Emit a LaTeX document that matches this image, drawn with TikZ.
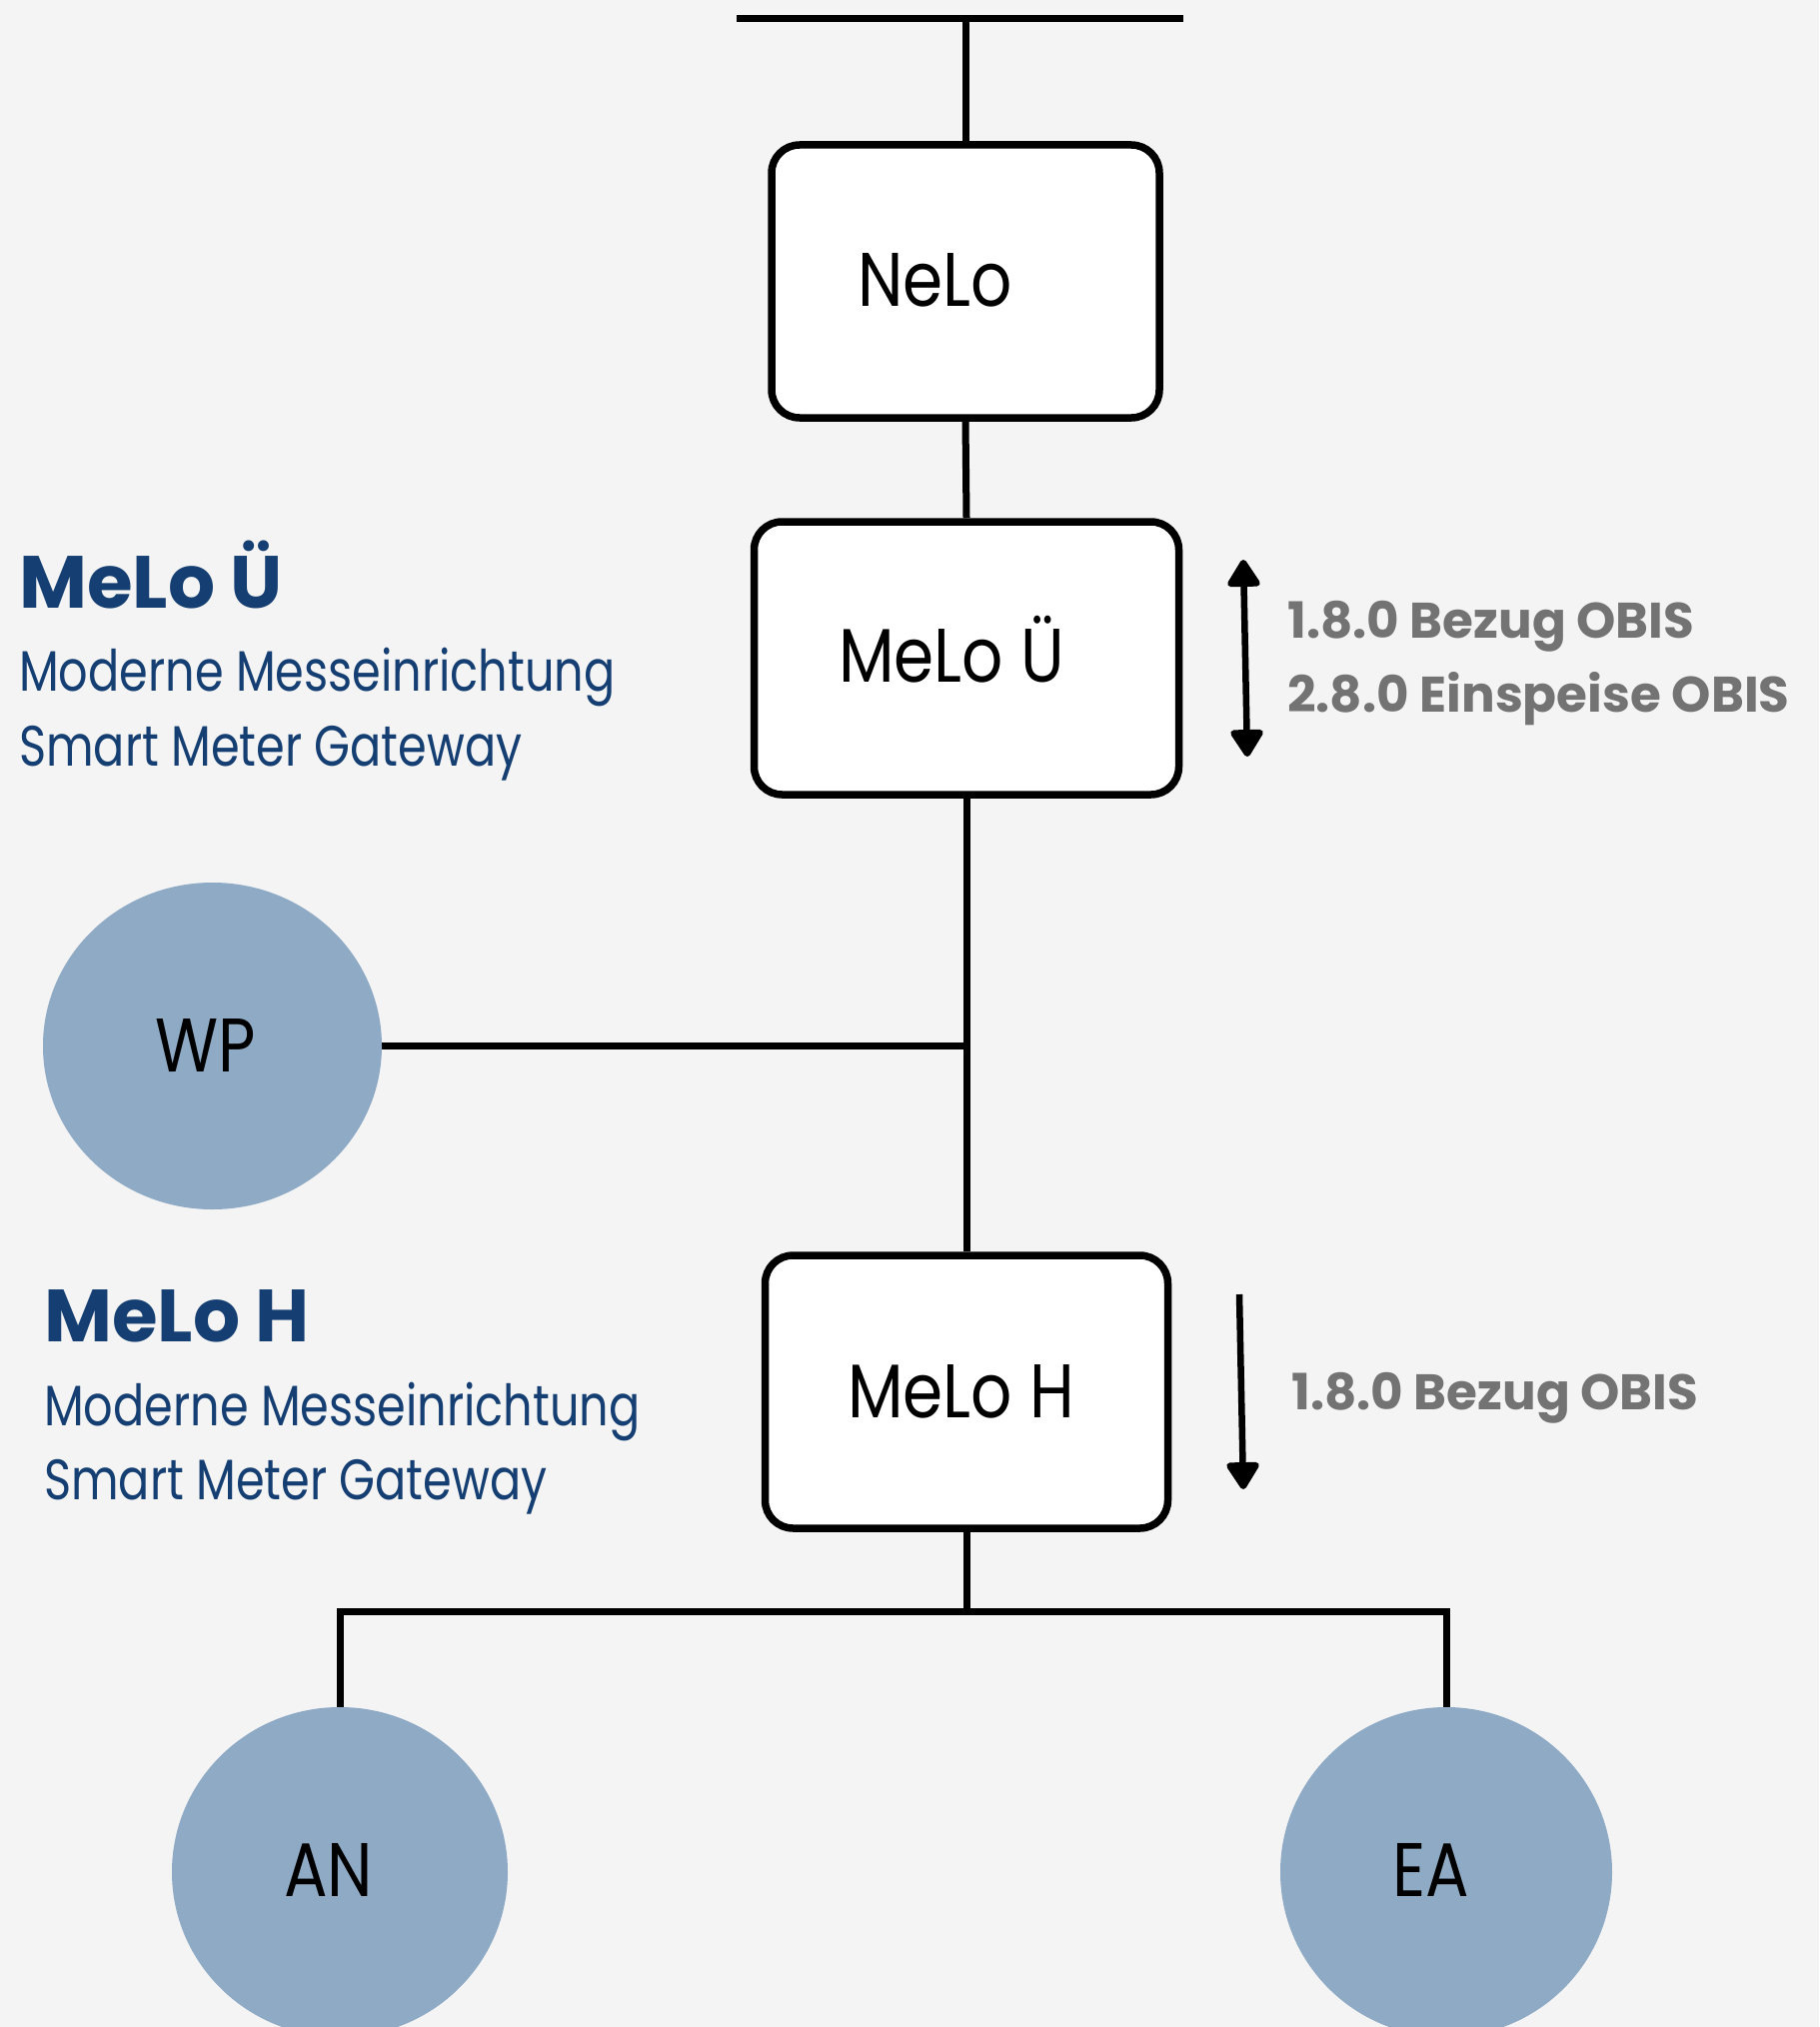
\documentclass[tikz,border=0pt]{standalone}
\usepackage{fontspec}
\setmainfont{Poppins}[FakeStretch=0.85]
\newfontfamily\subfont{Poppins}[FakeStretch=0.81]
\newfontfamily\headfont{Poppins}
\usetikzlibrary{arrows.meta,shapes.geometric}
\definecolor{bgc}{RGB}{244,244,244}
\definecolor{navy}{RGB}{21,63,114}
\definecolor{obisgray}{RGB}{115,115,115}
\definecolor{blob}{RGB}{143,170,197}
\begin{document}
\begin{tikzpicture}[x=1pt,y=-1pt,
  boxnode/.style={draw=black,line width=7.5pt,rounded corners=28pt,fill=white,inner sep=0pt},
  blobnode/.style={ellipse,fill=blob,inner sep=0pt},
  wire/.style={line width=7pt},
  tipshape/.tip={Triangle[width=36pt,length=30pt,round]},
  flow/.style={line width=6.5pt,-tipshape},
  lbl/.style={anchor=base west,inner sep=0pt},
  boxtxt/.style={lbl,font=\fontsize{76}{76}\selectfont},
  head/.style={lbl,text=navy,font=\headfont\fontsize{74}{74}\selectfont\bfseries},
  sub/.style={lbl,text=navy,font=\subfont\fontsize{57}{57}\selectfont},
  obis/.style={lbl,text=obisgray,font=\headfont\fontsize{50}{50}\selectfont\bfseries}]
\clip (0,0) rectangle (1820,2028);
\fill[bgc] (0,0) rectangle (1820,2028);

% nodes
\node[boxnode,minimum width=388pt,minimum height=273pt] (nelo) at (966,281.5) {};
\node[boxnode,minimum width=425pt,minimum height=273pt] (melou) at (967,658.5) {};
\node[boxnode,minimum width=403pt,minimum height=273pt] (meloh) at (967,1392.5) {};
\node[blobnode,minimum width=339pt,minimum height=327pt] (wp) at (212.5,1046.5) {};
\node[blobnode,minimum width=336pt,minimum height=330pt] (an) at (340,1873) {};
\node[blobnode,minimum width=332pt,minimum height=330pt] (ea) at (1447,1873) {};

% texts in shapes
\node[boxtxt] (tnelo) at (858,306) {NeLo};
\node[boxtxt] (tmelou) at (839,682) {MeLo Ü};
\node[boxtxt] (tmeloh) at (848,1418) {MeLo H};
\node[boxtxt] (twp) at (155,1072) {WP};
\node[boxtxt] (tan) at (284,1897) {AN};
\node[boxtxt] (tea) at (1393,1897) {EA};

% side labels
\node[head] (hu) at (19,608) {MeLo Ü};
\node[sub] (su1) at (19,691) {Moderne Messeinrichtung};
\node[sub] (su2) at (19,766) {Smart Meter Gateway};
\node[head] (hh) at (44,1342) {MeLo H};
\node[sub] (sh1) at (44,1426) {Moderne Messeinrichtung};
\node[sub] (sh2) at (44,1500) {Smart Meter Gateway};

\node[obis] (o1) at (1288,638) {1.8.0 Bezug OBIS};
\node[obis] (o2) at (1288,712) {2.8.0 Einspeise OBIS};
\node[obis] (o3) at (1292,1410) {1.8.0 Bezug OBIS};

% connectors
\coordinate (barL) at (737,19);
\coordinate (barR) at (1184,19);
\coordinate (barM) at (966,19);
\draw[wire] (barL) -- (barR);
\draw[wire] (barM) -- (nelo.north);
\draw[wire] (nelo.south) -- (melou.north);
\draw[wire] (melou.south) -- (meloh.north);
\draw[wire] (wp.east) -- (wp.east -| melou.south);
\coordinate (busM) at (967,1612);
\draw[wire] (meloh.south) -- (busM);
\draw[wire] (an.north) -- (an.north |- busM) -- (ea.north |- busM) -- (ea.north);

% arrows
\coordinate (a1t) at (1244,560);
\coordinate (a1b) at (1248,757);
\draw[flow,tipshape-tipshape] (a1t) -- (a1b);
\coordinate (a2t) at (1240,1295);
\coordinate (a2b) at (1244,1490);
\draw[flow] (a2t) -- (a2b);
\end{tikzpicture}
\end{document}
